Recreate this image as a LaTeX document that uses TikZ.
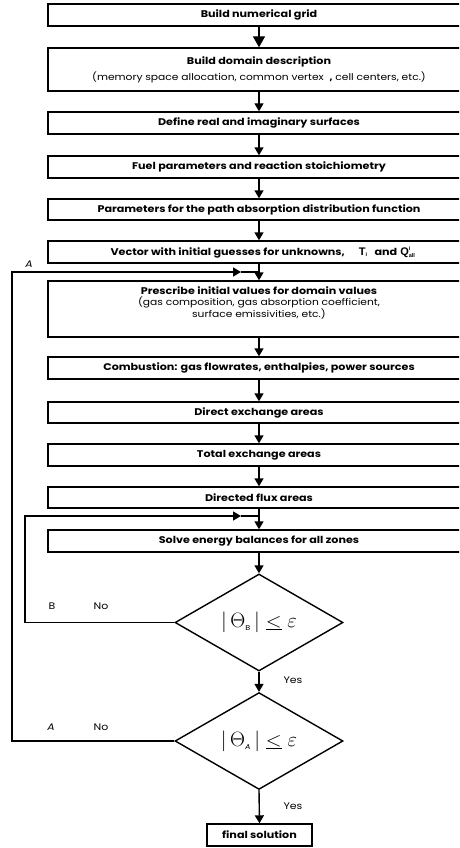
\documentclass[tikz,border=0pt]{standalone}
\usepackage{fontspec}
\setmainfont{Poppins}[FakeStretch=1.15]
\newfontfamily\arialf{Liberation Sans}
\usetikzlibrary{shapes.geometric,arrows.meta,calc}
\begin{document}
\begin{tikzpicture}[x=1pt,y=-1pt,
  box/.style={draw, line width=1.4pt, minimum width=422pt, inner sep=0pt,
    font=\fontsize{9.7}{11}\selectfont, align=center},
  dia/.style={draw, line width=1.4pt, shape=diamond, inner sep=0pt,
    minimum width=168pt, minimum height=97pt, font=\fontsize{20}{22}\selectfont},
  lbl/.style={font=\fontsize{9.5}{10}\selectfont, inner sep=0pt},
  ln/.style={line width=1.4pt},
  arr/.style={line width=1.4pt, -{Triangle[width=9pt,length=8pt]}},
  bigarr/.style={line width=1.4pt, -{Triangle[width=12pt,length=11pt]}}
]
\useasboundingbox (0,0) rectangle (459,848);
\clip (0,0) rectangle (459,848);

\node[box, minimum height=22pt] (b1) at (259,15) {\bfseries Build numerical grid};
\node[box, minimum height=43pt] (b2) at (259,69.5) {{\bfseries Build domain description}\\[4pt]
  {\fontsize{9.3}{11}\selectfont (memory space allocation, common vertex~ \textbf{,} cell centers, etc.)}};
\node[box, minimum height=22pt] (b3) at (259,123) {\bfseries Define real and imaginary surfaces};
\node[box, minimum height=22pt] (b4) at (259,167) {\bfseries Fuel parameters and reaction stoichiometry};
\node[box, minimum height=21pt] (b5) at (259,209.5) {\bfseries Parameters for the path absorption distribution function};
\node[box, minimum height=22pt] (b6) at (259,252) {\hspace*{8pt}\bfseries Vector with initial guesses for unknowns,\hspace{14pt}%
  {\arialf\bfseries\fontsize{11}{11}\selectfont T}\textsubscript{\arialf\fontsize{5.5}{5.5}\selectfont i}\hspace{7pt}and\hspace{3pt}%
  $\mbox{\arialf\bfseries\fontsize{11}{11}\selectfont Q}^{\mbox{\arialf\fontsize{5.5}{5.5}\selectfont i}}_{\mbox{\arialf\bfseries\fontsize{5.5}{5.5}\selectfont all}}$};
\node[box, minimum height=56pt] (b7) at (259,309) {{\bfseries Prescribe initial values for domain values}\\
  {\fontsize{9.3}{11}\selectfont (gas composition, gas absorption coefficient,}\\
  {\fontsize{9.3}{11}\selectfont surface emissivities, etc.)}\\[3pt]};
\node[box, minimum height=22pt] (b8) at (259,368) {\bfseries Combustion: gas flowrates, enthalpies, power sources};
\node[box, minimum height=21pt] (b9) at (259,412.5) {\bfseries Direct exchange areas};
\node[box, minimum height=22pt] (b10) at (259,455) {\bfseries Total exchange areas};
\node[box, minimum height=21pt] (b11) at (259,497.5) {\bfseries Directed flux areas};
\node[box, minimum height=22pt] (b12) at (259,541) {\bfseries Solve energy balances for all zones};

\node[dia] (d1) at (259,622.5) {$|\,\Theta_{\mbox{\fontsize{7}{7}\selectfont B}}\,|\;\underline{<}\;\varepsilon$};
\node[dia, minimum height=96pt] (d2) at (259,741) {$|\,\Theta_{\mbox{\fontsize{7}{7}\selectfont\itshape A}}\,|\;\underline{<}\;\varepsilon$};

\node[draw, line width=1.4pt, minimum width=105pt, minimum height=22pt, inner sep=0pt,
  font=\fontsize{9.7}{11}\selectfont\bfseries] (fin) at (259.5,835) {final solution};

\node[lbl] (yes1) at (293,680) {Yes};
\node[lbl] (yes2) at (293,806) {Yes};
\node[lbl] (labB) at (52,606) {B};
\node[lbl] (no1) at (101,606) {No};
\node[lbl] (labA2) at (51,727) {\itshape A};
\node[lbl] (no2) at (101,727) {No};
\node[lbl] (labA1) at (29,264) {\itshape A};

\draw[bigarr] (b1.south) -- (b2.north);
\draw[arr] (b2.south) -- (b3.north);
\draw[arr] (b3.south) -- (b4.north);
\draw[arr] (b4.south) -- (b5.north);
\draw[arr] (b5.south) -- (b6.north);
\draw[arr] (b6.south) -- (b7.north);
\draw[arr] (b7.south) -- (b8.north);
\draw[arr] (b8.south) -- (b9.north);
\draw[arr] (b9.south) -- (b10.north);
\draw[arr] (b10.south) -- (b11.north);
\draw[arr] (b11.south) -- (b12.north);
\draw[arr] (b12.south) -- (d1.north);
\draw[arr] (d1.south) -- (d2.north);
\draw[arr] (d2.south) -- (fin.north);

\coordinate (cA) at (12,272);
\coordinate (tA) at (241,272);
\coordinate (jA) at (259,272);
\draw[arr] (d2.west) -| (cA) -- (tA);
\draw[ln] (tA) -- (jA);

\coordinate (cB) at (25,516);
\coordinate (tB) at (241,516);
\coordinate (jB) at (259,516);
\draw[arr] (d1.west) -| (cB) -- (tB);
\draw[ln] (tB) -- (jB);
\end{tikzpicture}
\end{document}
